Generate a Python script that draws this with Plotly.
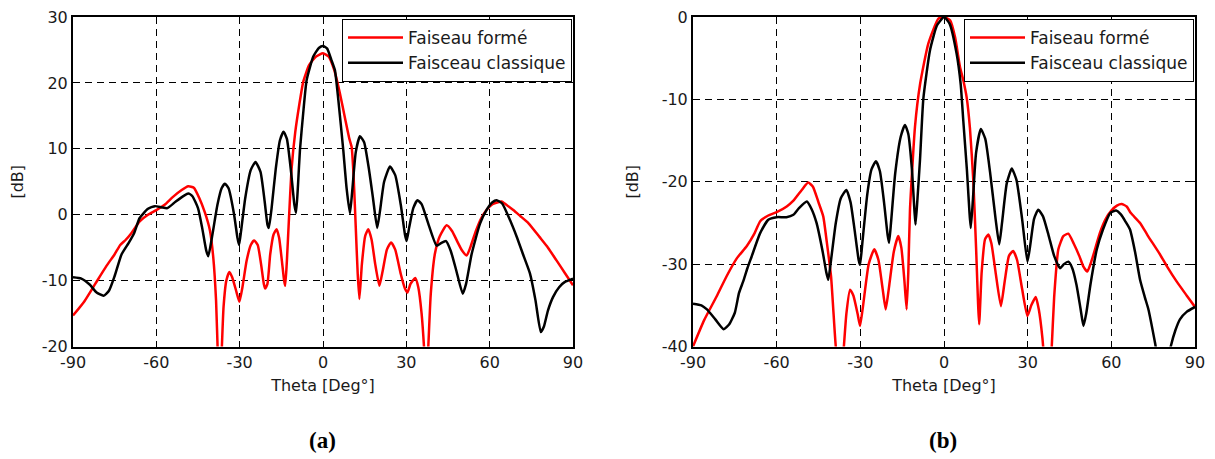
import plotly.graph_objects as go

# ---------------- data: chart (a) ----------------
theta_a_classique = [-90, -87, -84, -81.5, -79, -77, -75, -72.5, -70, -68, -66, -63, -60.5, -58, -56, -53, -50, -48.5,
                     -47, -45, -43.5, -42, -41.3, -40, -38, -36.5, -35.3, -34, -32, -30.8, -30.2, -29.5, -28, -26,
                     -24.3, -22.5, -21, -20, -19.5, -18.5, -17, -15.5, -14.2, -13, -11.5, -10.3, -9.7, -9, -8.3, -7,
                     -5.9, -3.5, -1.5, 0, 1.5, 3, 4.3, 5.5, 7.3, 8.5, 9.7, 10.5, 11.8, 13.3, 14.8, 16.5, 18, 19.5,
                     20.5, 22, 24.1, 26, 28, 29.5, 30.1, 31, 32.5, 34, 35.5, 38, 40.9, 42.5, 44.3, 46, 48, 50.3, 51.5,
                     53.5, 56.5, 59, 61, 62.5, 64.5, 67, 69.7, 72, 74.5, 76.5, 78.4, 79.5, 81, 82.8, 85, 87.1, 90]
db_a_classique = [-9.5, -9.7, -10.6, -11.8, -12.3, -11.5, -9.3, -6, -4.3, -2.8, -0.5, 0.9, 1.3, 1.1, 1.0, 2.0, 2.9, 3.2,
                  2.8, 1.0, -2, -5.5, -6.3, -3.5, 1.5, 4.0, 4.7, 4.0, 0, -3.5, -4.6, -2.5, 2.5, 6.8,
                  8.0, 6.5, 2.0, -1.5, -2.0, 1.0, 7.0, 11.3, 12.6, 11.5, 6.5, 1.5, 0.3, 4.5, 9.8, 16,
                  20.4, 24, 25.3, 25.6, 25.2, 23.5, 21.9, 17.5, 9.8, 4, 0.2, 3.5, 9.5, 11.9, 11.0, 7.0, 2.5, -2.0,
                  0.5, 5.0, 7.3, 6.0, 1.5, -3.0, -4.0, -2.0, 1.0, 2.2, 1.6, -1.5, -4.7, -4.3, -4.0, -5.5, -8.5, -12.0, -10.5,
                  -6, -1.4, 0.8, 1.9, 2.2, 1.7, -0.5, -3.3, -6, -8.9, -13.0, -17.8, -17.0, -14.5, -12.5, -11.0, -10.2, -9.7]

theta_a_forme = [-90, -86, -82, -78, -75, -73, -71, -69, -66, -63, -60, -57, -54, -51, -48.5, -46.5, -44.5, -42.5,
                 -40.7, -39.5, -38.5, -37.8, -37.2, -36.5, -35.8, -34.8, -33.7, -32.7, -31.3, -30.1, -29, -27.5,
                 -26, -24.8, -23.5, -22.3, -21.3, -20.8, -20.0, -19, -17.8, -16.7, -15.8, -14.8, -14, -13.6, -13.0,
                 -12.3, -11.3, -10, -8.5, -7.1, -5, -2.5, 0, 2, 4, 6.1, 8, 9.5, 10.3, 11, 11.8, 12.5, 13.1, 14,
                 15.2, 16.3, 17.5, 18.8, 20.3, 21.5, 23, 24.5, 26, 28, 29.5, 30.4, 31.5, 33.2, 34.3, 35.5, 36.5,
                 37.1, 37.8, 38.8, 40.3, 42, 44.5, 46.5, 48.5, 50, 51.7, 53, 55, 57, 59, 61, 63, 64.3, 66, 68.5,
                 71, 74, 78, 81, 84, 87, 90]
db_a_forme = [-15.3, -13.2, -10.5, -7.8, -6, -4.6, -3.8, -2.8, -1.0, 0.0, 0.7, 1.5, 2.7, 3.7, 4.3, 4.1, 2.5, 0.3,
              -2.4, -6.5, -13, -22, -27, -21, -14, -10, -8.7, -9.5, -11.5, -13.2, -11, -7,
              -4.6, -3.9, -4.6, -7.5, -10.5, -11.2, -10.5, -6, -3.0, -2.2, -3.5, -7, -10, -10.8, -7,
              -1, 7.0, 12.5, 16.8, 20.2, 22.7, 24.0, 24.5, 24.0, 22.0, 18.4, 14.5, 11.5, 10.3, 6, -2, -9, -12.8, -7.5,
              -3.2, -2.2, -3.8, -7.5, -10.8, -8.5, -5.3, -4.2, -5.3, -9, -11.2, -11.8, -10.5, -9.6, -11, -15, -21,
              -26, -21, -12, -5.9, -3.3, -1.6, -2.5, -4.2, -5.4, -6.2, -5, -2.5, -0.5, 0.8, 1.6, 1.9, 2.0, 1.5, 0.7,
              -0.2, -1.3, -3.4, -5.0, -6.9, -8.8, -10.7]

# ---------------- data: chart (b) ----------------
theta_b_classique = [-90, -87, -85, -82, -79, -77, -75, -73.5, -72, -70.5, -69, -66, -63, -60, -56.5, -54, -52, -49.2,
                     -47.5, -45.7, -43.5, -42.2, -41.5, -40.5, -38.8, -37, -35, -33.5, -32, -30.6, -30.1, -29.3,
                     -27.5, -26, -24.4, -23, -21.5, -20.2, -19.7, -19, -17.5, -15.5, -14, -12.8, -11.5, -10.6, -10.2,
                     -9.5, -8.6, -7.4, -5, -2.5, 0, 2, 4.5, 6, 6.9, 8.2, 9.6, 10.4, 11.5, 13.2, 14.8, 16.5, 18.5,
                     19.8, 20.8, 22.5, 24.3, 26, 28, 29.9, 30.8, 32.3, 33.8, 35.5, 37.5, 39.5, 41.6, 43, 44.6, 46,
                     47.5, 49, 50, 51, 52.5, 54.8, 57, 59.6, 61.7, 63.5, 65, 66.7, 68.5, 70.3, 72, 73.3, 75.7, 78.5,
                     81.3, 83, 84.6, 87, 90]
db_b_classique = [-34.8, -35.0, -35.5, -36.7, -37.9, -37.3, -35.9, -33.5, -32.1, -30.5, -29.1, -26.3, -24.6, -24.3, -24.3, -24, -23.2, -22.4,
                  -23.3, -25, -28.5, -31, -31.9, -29.5, -25, -22, -21, -22.5, -26, -29.5, -30.1, -27.5,
                  -21.5, -18.5, -17.5, -18.7, -22.5, -26.5, -27.4, -25, -19, -14.5, -13.1, -14.2, -18.5, -23.5, -25.2,
                  -22, -17.3, -9.9, -4.0, -1.0, 0, -0.8, -4.4, -8.2, -12.5, -18.5, -25.6, -22, -16.5, -13.6, -14.8, -18.8, -24.5,
                  -27.6, -25, -20.2, -18.4, -19.8, -24.5, -29.7, -28, -24.5, -23.4, -24.2, -26.5, -29, -30.5, -30, -29.7, -30.5,
                  -32.5, -35.5, -37.5, -36, -32.5, -28.2, -25.8, -23.8, -23.5, -24, -24.8, -25.8, -28.5, -31.9, -34, -35.5, -39.6, -45,
                  -40, -38, -36.7, -35.8, -35.2]

theta_b_forme = [-90, -86, -81.5, -78, -74.3, -70.7, -68, -65.9, -63, -60, -56.4, -54, -51, -48.7, -47, -45, -43.3,
                 -42, -40.5, -39.7, -38.8, -37, -35.9, -35, -33.7, -32.5, -31, -30.1, -29, -27, -25, -23.5, -22,
                 -20.9, -19.8, -18, -16.4, -15.3, -14.2, -13.4, -12.8, -12.2, -10.4, -8.6, -5.6, -2, 0, 2.2, 4,
                 5.7, 7, 8.1, 9.3, 10.5, 11.5, 12.6, 13.5, 14.7, 15.9, 17, 18.5, 20.4, 21.8, 23.3, 24.8, 26.2, 28,
                 29.9, 31.3, 32.9, 34, 35.3, 36.5, 37.5, 38.5, 39.5, 41, 42.8, 44.6, 46.5, 48.5, 50, 51.4, 53,
                 55.9, 58, 60, 62, 63.7, 65.5, 67, 70.3, 73, 77.4, 80, 83.4, 87, 90]
db_b_forme = [-40, -36.8, -33.9, -31.5, -29.3, -27.8, -26.3, -24.8, -24.1, -23.7, -23.0, -22.3, -21, -20.1, -20.6, -22.5, -24.2,
              -27.4, -31.5, -35.5, -40, -45, -40, -36, -33.1, -33.8, -36, -37.5, -35, -30, -28.2, -29.5, -33,
              -35.5, -33, -28.5, -26.6, -28, -32, -35.5, -31, -23.4, -13.3, -8.2, -3.2, -0.2, 0, -0.4, -2.5,
              -6, -7.8, -9.7, -13.5, -19.8, -28, -37.3, -31, -27, -26.4, -27.5, -31, -35.1, -32, -29, -28.4, -29.5, -33,
              -36.3, -35, -34.0, -35.5, -39, -44, -46, -41, -34, -28.2, -26.6, -26.3, -27.5, -29, -30.3, -30.9, -29.5,
              -26.2, -24.5, -23.5, -22.9, -22.7, -23, -23.8, -25, -26.5, -28.8, -30.3, -32.1, -33.8, -35.2]

x_ticks = [-90, -60, -30, 0, 30, 60, 90]
x_ticklabels = ["-90", "-60", "-30", "0", "30", "60", "90"]
y_ticks_a = [-20, -10, 0, 10, 20, 30]
y_ticklabels_a = ["-20", "-10", "0", "10", "20", "30"]
y_ticks_b = [-40, -30, -20, -10, 0]
y_ticklabels_b = ["-40", "-30", "-20", "-10", "0"]

name_forme = "Faiseau formé"
name_classique = "Faisceau classique"

RED = "#ff0000"
BLACK = "#000000"
FONT = "DejaVu Sans"
TXT = "#1a1a1a"

fig = go.Figure()

line_style = dict(width=2.5, shape="spline", smoothing=0.5)
fig.add_trace(go.Scatter(x=theta_a_forme, y=db_a_forme, name=name_forme, mode="lines",
                         line=dict(color=RED, **line_style), xaxis="x", yaxis="y", legend="legend"))
fig.add_trace(go.Scatter(x=theta_a_classique, y=db_a_classique, name=name_classique, mode="lines",
                         line=dict(color=BLACK, **line_style), xaxis="x", yaxis="y", legend="legend"))
fig.add_trace(go.Scatter(x=theta_b_forme, y=db_b_forme, name=name_forme, mode="lines",
                         line=dict(color=RED, **line_style), xaxis="x2", yaxis="y2", legend="legend2"))
fig.add_trace(go.Scatter(x=theta_b_classique, y=db_b_classique, name=name_classique, mode="lines",
                         line=dict(color=BLACK, **line_style), xaxis="x2", yaxis="y2", legend="legend2"))

# page body has an 8px margin; figure is sized and positioned to compensate
OFF = 8
W, H = 1215 - OFF, 459 - OFF


def px_x(v):
    return (v - OFF) / W


def px_y(v):
    return 1 - (v - OFF) / H


ytop = px_y(17)
ybot = px_y(346.5)

common_axis = dict(
    showline=True, linecolor="black", linewidth=2, mirror="ticks",
    ticks="inside", ticklen=4, tickcolor="black", tickwidth=1,
    showgrid=True, gridcolor="black", gridwidth=1, griddash="7px,5px",
    zeroline=False, automargin=False, ticklabeloverflow="allow",
    tickfont=dict(family=FONT, size=16, color=TXT),
)
title_font = dict(family=FONT, size=16, color=TXT)

fig.update_layout(
    width=W, height=H,
    margin=dict(l=0, r=0, t=0, b=0),
    paper_bgcolor="white", plot_bgcolor="white",
    xaxis=dict(domain=[px_x(73), px_x(573)], range=[-90, 90], tickvals=x_ticks, ticktext=x_ticklabels,
               title=dict(text="Theta [Deg°]", font=title_font, standoff=9),
               anchor="y", **common_axis),
    yaxis=dict(domain=[ybot, ytop], range=[-20, 30], tickvals=y_ticks_a, ticktext=y_ticklabels_a,
               title=dict(text="[dB]", font=title_font, standoff=19),
               anchor="x", **common_axis),
    xaxis2=dict(domain=[px_x(693), px_x(1195)], range=[-90, 90], tickvals=x_ticks, ticktext=x_ticklabels,
                title=dict(text="Theta [Deg°]", font=title_font, standoff=9),
                anchor="y2", **common_axis),
    yaxis2=dict(domain=[ybot, ytop], range=[-40, 0], tickvals=y_ticks_b, ticktext=y_ticklabels_b,
                title=dict(text="[dB]", font=title_font, standoff=19),
                anchor="x2", **common_axis),
    legend=dict(x=px_x(572), xanchor="right", y=px_y(19), yanchor="top",
                bgcolor="white", bordercolor="black", borderwidth=1,
                font=dict(family=FONT, size=17, color=TXT), itemwidth=55),
    legend2=dict(x=px_x(1194), xanchor="right", y=px_y(19), yanchor="top",
                 bgcolor="white", bordercolor="black", borderwidth=1,
                 font=dict(family=FONT, size=17, color=TXT), itemwidth=55),
    annotations=[
        dict(text="<b>(a)</b>", x=px_x(322), y=px_y(440), xref="paper", yref="paper", showarrow=False,
             xanchor="center", yanchor="middle",
             font=dict(family="Liberation Serif", size=23, color="black")),
        dict(text="<b>(b)</b>", x=px_x(943), y=px_y(440), xref="paper", yref="paper", showarrow=False,
             xanchor="center", yanchor="middle",
             font=dict(family="Liberation Serif", size=23, color="black")),
    ],
)

fig.write_html("out.html")
